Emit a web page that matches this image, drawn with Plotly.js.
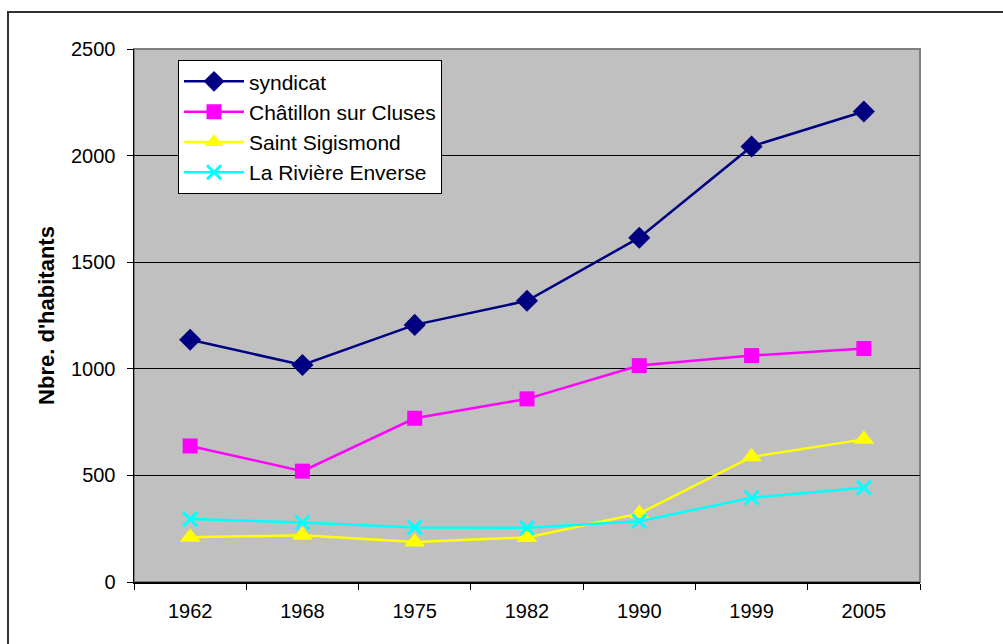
<!DOCTYPE html>
<html>
<head>
<meta charset="utf-8">
<script src="https://cdn.plot.ly/plotly-3.0.1.min.js"></script>
<style>html,body{margin:0;padding:0;background:#fff;}#chart{width:1003px;height:644px;}</style>
</head>
<body>
<div id="chart"></div>
<script>
var years = ["1962", "1968", "1975", "1982", "1990", "1999", "2005"];
var syndicat = [1136, 1018, 1206, 1319, 1615, 2043, 2207];
var chatillon = [638, 520, 768, 859, 1015, 1062, 1095];
var saintSigismond = [210, 219, 188, 209, 321, 587, 669];
var laRiviere = [295, 279, 256, 254, 285, 395, 442];
var seriesNames = ["syndicat", "Châtillon sur Cluses", "Saint Sigismond", "La Rivière Enverse"];
var yTicks = [0, 500, 1000, 1500, 2000, 2500];

var font = "Liberation Sans, Arial, sans-serif";
function tr(name, y, color, symbol, size, extra) {
  var m = {symbol: symbol, size: size, color: color};
  if (extra) { m.line = {color: color, width: extra}; }
  return {x: years, y: y, name: name, type: "scatter", mode: "lines+markers",
    line: {color: color, width: 2.5}, marker: m};
}
var data = [
  tr(seriesNames[0], syndicat, "#000080", "diamond", 17),
  tr(seriesNames[1], chatillon, "#FF00FF", "square", 15),
  tr(seriesNames[2], saintSigismond, "#FFFF00", "triangle-up", 18),
  tr(seriesNames[3], laRiviere, "#00FFFF", "x-thin", 14, 3)
];
var layout = {
  width: 1003, height: 644,
  margin: {l: 134, r: 83, t: 49, b: 62},
  paper_bgcolor: "#FFFFFF", plot_bgcolor: "#C0C0C0",
  font: {family: font, size: 20, color: "#000"},
  showlegend: true,
  legend: {x: 0.056, y: 0.979, xanchor: "left", yanchor: "top", bgcolor: "#FFFFFF",
    bordercolor: "#000", borderwidth: 1, font: {family: font, size: 21, color: "#000"},
    tracegroupgap: 0, itemwidth: 60},
  xaxis: {type: "category", showgrid: false, zeroline: false, showline: true, linecolor: "#000", linewidth: 1.5,
    ticks: "outside", tickson: "boundaries", ticklen: 6, tickcolor: "#000", tickwidth: 1,
    ticklabelstandoff: 10, tickfont: {family: font, size: 20}, range: [-0.5, 6.5], fixedrange: true},
  yaxis: {range: [0, 2500], tickvals: yTicks, showgrid: true, gridcolor: "#000", gridwidth: 1,
    zeroline: false, showline: true, linecolor: "#000", linewidth: 1.5, ticks: "outside", ticklen: 6,
    tickcolor: "#000", ticklabelstandoff: 7, tickfont: {family: font, size: 20},
    title: {text: "Nbre. d'habitants", font: {family: font, size: 22, weight: "bold"}, standoff: 10}},
  shapes: [
    {type: "rect", xref: "paper", yref: "paper", x0: 0, x1: 1, y0: 0, y1: 1,
      line: {color: "#808080", width: 2}, layer: "below"},
    {type: "rect", xref: "paper", yref: "paper", x0: -0.1603, x1: 1.1145, y0: -0.1276, y1: 1.0694,
      line: {color: "#333", width: 2}}
  ]
};
Plotly.newPlot("chart", data, layout, {displayModeBar: false, staticPlot: true});
</script>
</body>
</html>
